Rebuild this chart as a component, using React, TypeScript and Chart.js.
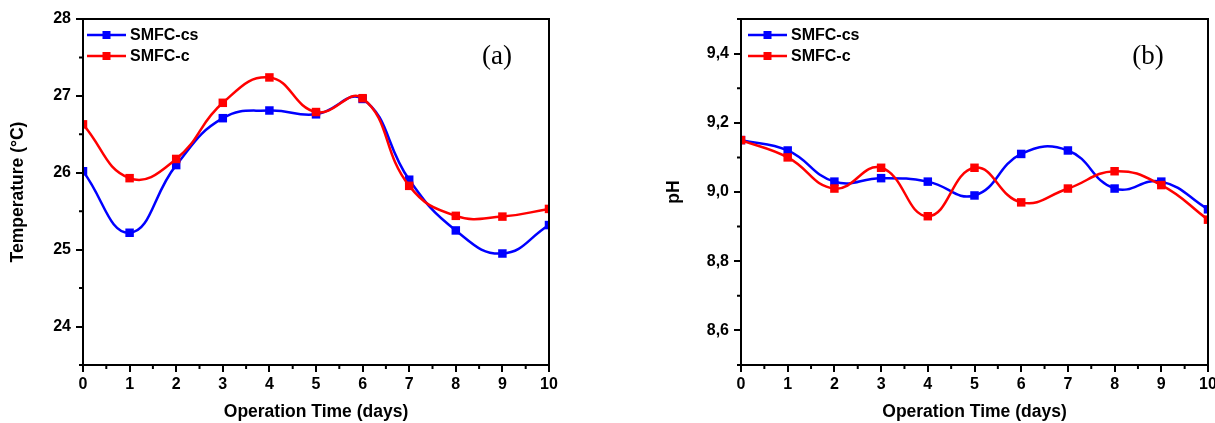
import { useEffect, useRef } from "react";
import { Chart, registerables } from "chart.js";

Chart.register(...registerables);

const days = [0, 1, 2, 3, 4, 5, 6, 7, 8, 9, 10];
const seriesNames = ["SMFC-cs", "SMFC-c"];
const seriesColors = ["#0000ff", "#ff0000"];
const tempCS = [26.02, 25.22, 26.1, 26.71, 26.81, 26.76, 26.96, 25.91, 25.25, 24.95, 25.32];
const tempC = [26.63, 25.93, 26.18, 26.91, 27.24, 26.79, 26.97, 25.83, 25.44, 25.43, 25.53];
const phCS = [9.15, 9.12, 9.03, 9.04, 9.03, 8.99, 9.11, 9.12, 9.01, 9.03, 8.95];
const phC = [9.15, 9.1, 9.01, 9.07, 8.93, 9.07, 8.97, 9.01, 9.06, 9.02, 8.92];

const xTicks = [0, 1, 2, 3, 4, 5, 6, 7, 8, 9, 10];
const xMinorTicks = [0.5, 1.5, 2.5, 3.5, 4.5, 5.5, 6.5, 7.5, 8.5, 9.5];
const tempTicks = [24, 25, 26, 27, 28];
const tempMinorTicks = [23.5, 24.5, 25.5, 26.5, 27.5];
const phTicks = [8.6, 8.8, 9.0, 9.2, 9.4];
const phMinorTicks = [8.5, 8.7, 8.9, 9.1, 9.3, 9.5];

const SANS = "'Liberation Sans', Arial, sans-serif";
const SERIF = "'Liberation Serif', 'Times New Roman', serif";

const decoPlugin = {
  id: "deco",
  afterDraw(chart: any, _args: any, opts: any) {
    const { ctx, chartArea } = chart;
    const xs = chart.scales.x;
    const ys = chart.scales.y;
    ctx.save();
    // frame
    ctx.strokeStyle = "#000";
    ctx.lineWidth = 2;
    ctx.strokeRect(chartArea.left, chartArea.top, chartArea.right - chartArea.left, chartArea.bottom - chartArea.top);
    // minor ticks
    ctx.lineWidth = 2;
    ctx.beginPath();
    for (const v of opts.xMinor) {
      const px = xs.getPixelForValue(v);
      ctx.moveTo(px, chartArea.bottom);
      ctx.lineTo(px, chartArea.bottom + 4);
    }
    for (const v of opts.yMinor) {
      const py = ys.getPixelForValue(v);
      ctx.moveTo(chartArea.left, py);
      ctx.lineTo(chartArea.left - 4, py);
    }
    ctx.stroke();
    // legend
    const ds = chart.data.datasets;
    ctx.font = `bold 16px ${SANS}`;
    ctx.textBaseline = "middle";
    ctx.textAlign = "left";
    ds.forEach((d: any, i: number) => {
      const y = opts.legendY[i];
      const x0 = chartArea.left + opts.legendX0;
      const x1 = chartArea.left + opts.legendX1;
      ctx.strokeStyle = d.borderColor;
      ctx.lineWidth = 2.5;
      ctx.beginPath();
      ctx.moveTo(x0, y);
      ctx.lineTo(x1, y);
      ctx.stroke();
      ctx.fillStyle = d.borderColor;
      const cx = (x0 + x1) / 2;
      ctx.fillRect(cx - 4, y - 4, 8, 8);
      ctx.fillStyle = "#000";
      ctx.fillText(d.label, x1 + 4, y + 1);
    });
    // panel label
    ctx.font = `27px ${SERIF}`;
    ctx.textAlign = "center";
    ctx.textBaseline = "middle";
    ctx.fillStyle = "#000";
    ctx.fillText(opts.panel, chartArea.right - opts.panelDx, 57);
    ctx.restore();
  },
};

function makeConfig(p: any): any {
  const datasets = p.series.map((vals: number[], i: number) => ({
    label: seriesNames[i],
    data: days.map((d, j) => ({ x: d, y: vals[j] })),
    borderColor: seriesColors[i],
    backgroundColor: seriesColors[i],
    pointBackgroundColor: seriesColors[i],
    pointBorderWidth: 0,
    pointStyle: "rect",
    pointRadius: 6,
    borderWidth: 2.5,
    tension: 0.45,
    clip: 0,
    order: i === 0 ? 1 : 0,
  }));
  return {
    type: "line",
    data: { datasets },
    plugins: [decoPlugin],
    options: {
      animation: false,
      responsive: false,
      devicePixelRatio: 1,
      layout: { padding: { left: 0, right: p.padRight, top: 19, bottom: 0 } },
      plugins: {
        legend: { display: false },
        tooltip: { enabled: false },
        deco: {
          xMinor: xMinorTicks,
          yMinor: p.yMinor,
          legendY: [35, 56],
          legendX0: p.legendX0,
          legendX1: p.legendX1,
          panel: p.panel,
          panelDx: p.panelDx,
        },
      },
      scales: {
        x: {
          type: "linear",
          min: 0,
          max: 10,
          afterBuildTicks: (s: any) => {
            s.ticks = xTicks.map((v) => ({ value: v }));
          },
          afterFit: (s: any) => {
            s.height = 58;
            s.paddingLeft = 0;
            s.paddingRight = 0;
          },
          grid: { drawOnChartArea: false, drawTicks: true, tickLength: 7, color: "#000", lineWidth: 2 },
          border: { display: true, color: "#000", width: 2 },
          ticks: {
            color: "#000",
            padding: 3,
            font: { family: SANS, size: 16, weight: "bold" },
            callback: (v: any) => String(v),
          },
          title: {
            display: true,
            text: "Operation Time (days)",
            color: "#000",
            padding: { top: 0, bottom: 0 },
            font: { family: SANS, size: 17.5, weight: "bold" },
          },
        },
        y: {
          type: "linear",
          min: p.yMin,
          max: p.yMax,
          afterBuildTicks: (s: any) => {
            s.ticks = p.yTicks.map((v: number) => ({ value: v }));
          },
          afterFit: (s: any) => {
            s.width = p.yWidth;
            s.paddingTop = 0;
            s.paddingBottom = 0;
          },
          grid: { drawOnChartArea: false, drawTicks: true, tickLength: 7, color: "#000", lineWidth: 2 },
          border: { display: true, color: "#000", width: 2 },
          ticks: {
            color: "#000",
            padding: 5,
            font: { family: SANS, size: 16, weight: "bold" },
            callback: p.fmt,
          },
          title: {
            display: true,
            text: p.yTitle,
            color: "#000",
            padding: { top: p.yTitlePad, bottom: 0 },
            font: { family: SANS, size: 17.5, weight: "bold" },
          },
        },
      },
    },
  };
}

function ChartBox(props: { left: number; width: number; cfg: any }) {
  const ref = useRef<HTMLCanvasElement | null>(null);
  useEffect(() => {
    if (!ref.current) return;
    const chart = new Chart(ref.current, props.cfg);
    return () => chart.destroy();
  }, []);
  return (
    <canvas
      ref={ref}
      width={props.width}
      height={423}
      style={{ position: "absolute", left: props.left, top: 0, width: props.width, height: 423 }}
    />
  );
}

export default function App() {
  const leftCfg = makeConfig({
    series: [tempCS, tempC],
    yMin: 23.5,
    yMax: 28,
    yTicks: tempTicks,
    yMinor: tempMinorTicks,
    yWidth: 83,
    padRight: 51,
    yTitle: "Temperature (°C)",
    yTitlePad: 8,
    fmt: (v: any) => String(v),
    legendX0: 4,
    legendX1: 43,
    panel: "(a)",
    panelDx: 52,
  });
  const rightCfg = makeConfig({
    series: [phCS, phC],
    yMin: 8.5,
    yMax: 9.5,
    yTicks: phTicks,
    yMinor: phMinorTicks,
    yWidth: 121,
    padRight: 7,
    yTitle: "pH",
    yTitlePad: 44,
    fmt: (v: any) => Number(v).toFixed(1).replace(".", ","),
    legendX0: 7,
    legendX1: 46,
    panel: "(b)",
    panelDx: 60,
  });
  return (
    <div style={{ position: "fixed", left: 0, top: 0, width: 1215, height: 423, background: "#fff", overflow: "hidden" }}>
      <ChartBox left={0} width={600} cfg={leftCfg} />
      <ChartBox left={620} width={595} cfg={rightCfg} />
    </div>
  );
}
